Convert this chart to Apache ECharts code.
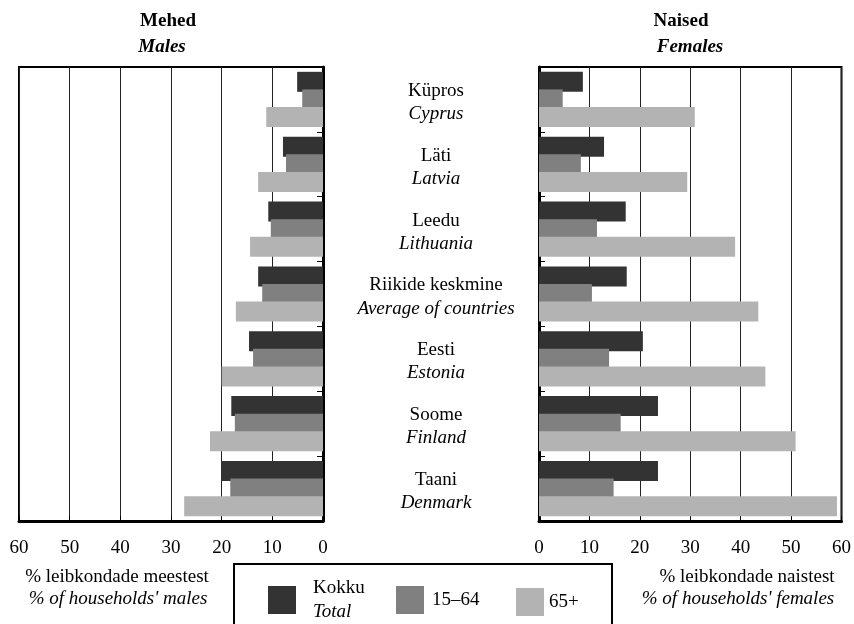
<!DOCTYPE html>
<html>
<head>
<meta charset="utf-8">
<script src="https://cdn.jsdelivr.net/npm/echarts@6/dist/echarts.min.js"></script>
<style>
  html, body { margin: 0; padding: 0; background: #fff; }
  #main { width: 854px; height: 624px; }
</style>
</head>
<body>
<div id="main"></div>
<script>
// riigid ülalt alla
const countriesEt = ['Küpros', 'Läti', 'Leedu', 'Riikide keskmine', 'Eesti', 'Soome', 'Taani'];
const countriesEn = ['Cyprus', 'Latvia', 'Lithuania', 'Average of countries', 'Estonia', 'Finland', 'Denmark'];

// Mehed / Males
const malesTotal = [5.1, 7.9, 10.8, 12.8, 14.6, 18.1, 20.1];
const males1564 = [4.1, 7.3, 10.3, 12.0, 13.8, 17.4, 18.3];
const males65 = [11.2, 12.8, 14.4, 17.2, 20.0, 22.3, 27.4];

// Naised / Females
const femalesTotal = [8.7, 12.9, 17.2, 17.4, 20.6, 23.6, 23.6];
const females1564 = [4.7, 8.3, 11.5, 10.5, 13.9, 16.2, 14.8];
const females65 = [30.9, 29.4, 38.9, 43.5, 44.9, 50.9, 59.1];

const seriesNames = ['Kokku', '15–64', '65+'];
const colors = ['#333333', '#808080', '#b3b3b3'];

const font = 'Liberation Serif, Times New Roman, serif';
const fs = 19;

const categoryLabels = countriesEt.map((c, i) => c + '\n{it|' + countriesEn[i] + '}');

const makeBar = (name, data, idx, color) => ({
  name: name,
  type: 'bar',
  xAxisIndex: idx,
  yAxisIndex: idx,
  data: data,
  barWidth: 20,
  barGap: '-12%',
  itemStyle: { color: color },
  silent: true
});

const valueAxis = (idx, inverse) => ({
  type: 'value',
  gridIndex: idx,
  min: 0,
  max: 60,
  interval: 10,
  inverse: inverse,
  axisLine: { show: true, lineStyle: { color: '#000', width: 3 } },
  axisTick: { show: true, inside: true, length: 5, lineStyle: { color: '#000' } },
  axisLabel: { color: '#000', fontFamily: font, fontSize: fs, margin: 18 },
  splitLine: { show: true, lineStyle: { color: '#222', width: 1 } }
});

// legend — one per item so the squares sit where the original has them
const legendItem = (name, left, top, textPad, fmt) => ({
  data: [{ name: name, icon: 'rect' }],
  left: left,
  top: top,
  padding: 0,
  itemWidth: 28,
  itemHeight: 28,
  selectedMode: false,
  formatter: fmt || '{name}',
  textStyle: {
    color: '#000',
    fontFamily: font,
    fontSize: fs,
    lineHeight: 24,
    padding: [0, 0, 0, textPad],
    rich: { it: { fontStyle: 'italic', fontFamily: font, fontSize: fs, lineHeight: 24 } }
  }
});

const txt = (x, y, text, style) => ({
  type: 'text', x: x, y: y, silent: true,
  style: { text: text, font: style + ' ' + fs + 'px ' + font, fill: '#000', align: 'center', verticalAlign: 'middle' }
});

let option = {
  animation: false,
  color: colors,
  textStyle: { fontFamily: font },
  grid: [
    { left: 19, right: 854 - 323, top: 67, bottom: 624 - 521, show: true, borderColor: '#000', borderWidth: 2 },
    { left: 539, right: 854 - 843, top: 67, bottom: 624 - 521, show: true, borderColor: '#000', borderWidth: 2 }
  ],
  xAxis: [valueAxis(0, true), valueAxis(1, false)],
  yAxis: [
    {
      type: 'category',
      gridIndex: 0,
      position: 'right',
      inverse: true,
      data: categoryLabels,
      axisLine: { show: true, lineStyle: { color: '#000', width: 3 } },
      axisTick: { show: true, inside: true, length: 6, lineStyle: { color: '#000' } },
      axisLabel: {
        align: 'center',
        margin: 113,
        padding: [6, 0, 0, 0],
        color: '#000',
        fontFamily: font,
        fontSize: fs,
        lineHeight: 23,
        rich: { it: { fontStyle: 'italic', fontFamily: font, fontSize: fs, lineHeight: 23, color: '#000' } }
      }
    },
    {
      type: 'category',
      gridIndex: 1,
      position: 'left',
      inverse: true,
      data: countriesEt,
      axisLine: { show: true, lineStyle: { color: '#000', width: 3 } },
      axisTick: { show: true, inside: true, length: 6, lineStyle: { color: '#000' } },
      axisLabel: { show: false }
    }
  ],
  legend: [
    legendItem(seriesNames[0], 268, 576, 12, 'Kokku\n{it|Total}'),
    legendItem(seriesNames[1], 396, 586, 3),
    legendItem(seriesNames[2], 516, 588, 0)
  ],
  graphic: [
    // legendi raam (alumine serv jääb pildist välja)
    { type: 'rect', silent: true, shape: { x: 234, y: 564, width: 378, height: 90 }, style: { fill: 'none', stroke: '#000', lineWidth: 2 } },
    txt(168, 21, 'Mehed', 'bold'),
    txt(162, 47, 'Males', 'italic bold'),
    txt(681, 21, 'Naised', 'bold'),
    txt(690, 47, 'Females', 'italic bold'),
    txt(117, 577, '% leibkondade meestest', ''),
    txt(118, 599, "% of households' males", 'italic'),
    txt(747, 577, '% leibkondade naistest', ''),
    txt(738, 599, "% of households' females", 'italic')
  ],
  series: [
    makeBar(seriesNames[0], malesTotal, 0, colors[0]),
    makeBar(seriesNames[1], males1564, 0, colors[1]),
    makeBar(seriesNames[2], males65, 0, colors[2]),
    makeBar(seriesNames[0], femalesTotal, 1, colors[0]),
    makeBar(seriesNames[1], females1564, 1, colors[1]),
    makeBar(seriesNames[2], females65, 1, colors[2])
  ]
};

let myChart = echarts.init(document.getElementById('main'));
myChart.setOption(option);
</script>
</body>
</html>
